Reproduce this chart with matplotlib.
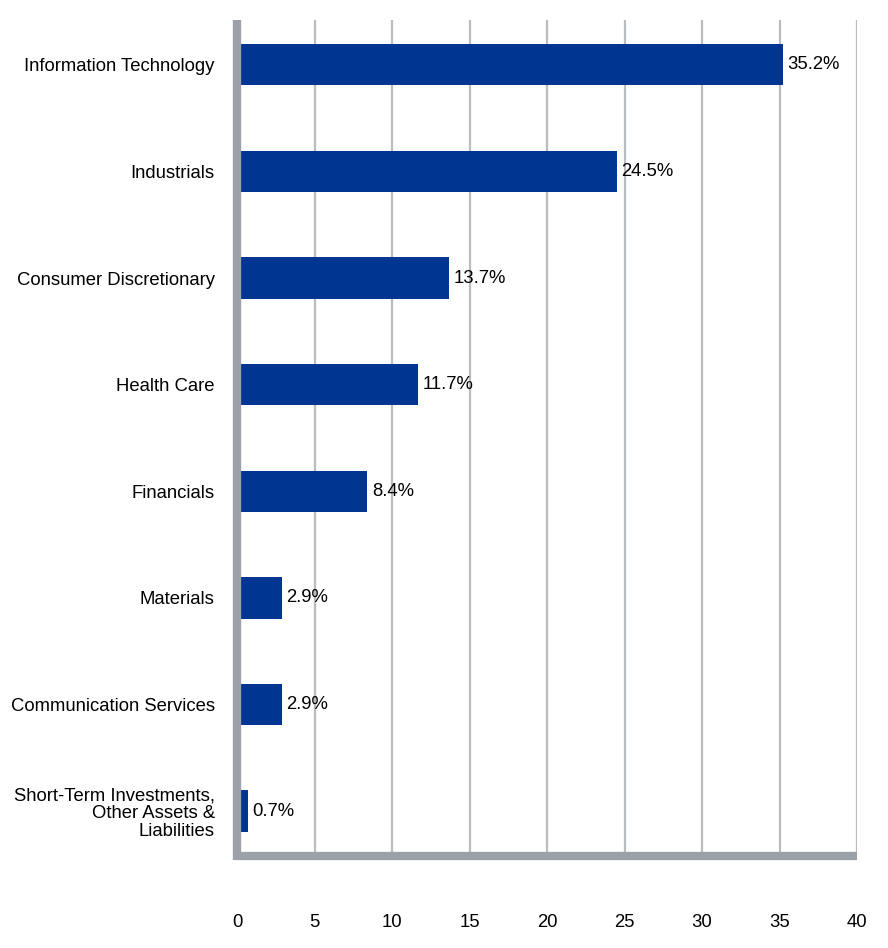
import matplotlib.pyplot as plt

plt.rcParams['font.family'] = ['Liberation Sans', 'DejaVu Sans']

sectors = ["Information Technology", "Industrials", "Consumer Discretionary",
           "Health Care", "Financials", "Materials", "Communication Services",
           "Short-Term Investments,\nOther Assets &\nLiabilities"]
weights = [35.2, 24.5, 13.7, 11.7, 8.4, 2.9, 2.9, 0.7]
xticks = [0, 5, 10, 15, 20, 25, 30, 35, 40]

bar_color = "#003591"
spine_color = "#9ca1a9"
grid_color = "#b9bcc1"
fs = 13.3

fig = plt.figure(figsize=(8.88, 9.48), dpi=100)
ax = fig.add_axes([0.2669, 0.097, 0.6982, 0.882])

ypos = list(range(len(sectors)))
ax.barh(ypos, weights, height=0.39, color=bar_color, zorder=3)

for y, v in zip(ypos, weights):
    ax.text(v + 0.3, y, f"{v}%", va="center", ha="left", fontsize=fs, zorder=4)

ax.set_xlim(0, 40)
ax.set_ylim(7.42, -0.42)
ax.set_yticks(ypos)
ax.set_yticklabels(sectors, fontsize=fs, linespacing=1.05)
ax.set_xticks(xticks)
ax.set_xticklabels([str(t) for t in xticks], fontsize=fs)
ax.tick_params(axis="y", length=0, pad=16)
ax.tick_params(axis="x", length=0, pad=42)

ax.grid(axis="x", color=grid_color, linewidth=1.6, zorder=0)
ax.grid(axis="y", visible=False)

for s in ["top", "right"]:
    ax.spines[s].set_visible(False)
for s in ["left", "bottom"]:
    ax.spines[s].set_color(spine_color)
    ax.spines[s].set_linewidth(6)
    ax.spines[s].set_zorder(5)
    ax.spines[s].set_capstyle("butt")
# close the corner where the two thick spines meet
ax.spines["left"].set_bounds(7.46, -0.42)

fig.savefig("out.png", dpi=100)
